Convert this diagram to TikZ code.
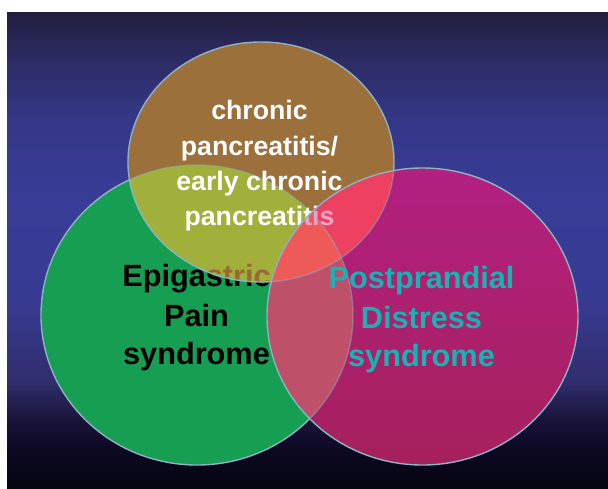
\documentclass[tikz,border=0pt]{standalone}
\usepackage{fontspec}
\setmainfont{Liberation Sans}
\definecolor{bgA}{RGB}{34,30,62}
\definecolor{bgB}{RGB}{44,44,100}
\definecolor{bgC}{RGB}{52,55,135}
\definecolor{bgD}{RGB}{56,60,150}
\definecolor{bgE}{RGB}{55,58,145}
\definecolor{bgF}{RGB}{48,46,110}
\definecolor{bgG}{RGB}{25,18,55}
\definecolor{bgH}{RGB}{12,8,35}
\definecolor{bgI}{RGB}{4,5,14}
\definecolor{greenF}{RGB}{22,158,82}
\definecolor{brownF}{RGB}{155,112,58}
\definecolor{oliveF}{RGB}{160,176,58}
\definecolor{magT}{RGB}{178,32,128}
\definecolor{magB}{RGB}{166,32,92}
\definecolor{gmF}{RGB}{190,80,105}
\definecolor{bmF}{RGB}{238,64,96}
\definecolor{gbmF}{RGB}{238,90,88}
\definecolor{stricC}{RGB}{150,105,55}
\definecolor{tisC}{RGB}{242,162,200}
\definecolor{darkM}{RGB}{90,20,50}
\definecolor{cyanT}{RGB}{25,178,180}
\definecolor{edgeC}{RGB}{140,178,196}
\pgfdeclareverticalshading{bgshade}{100bp}{color(0bp)=(bgI); color(25bp)=(bgI); color(29bp)=(bgH); color(32bp)=(bgG); color(36.3bp)=(bgF); color(44.7bp)=(bgE); color(55.2bp)=(bgD); color(63.7bp)=(bgC); color(70bp)=(bgB); color(75bp)=(bgA); color(100bp)=(bgA)}
\tikzset{
  ring/.style={draw=edgeC, line width=1.4pt},
  faintring/.style={draw=edgeC, line width=1.4pt, draw opacity=0.45},
  btxt/.style={font=\bfseries\fontsize{26.7}{32}\selectfont, anchor=base, inner sep=0pt},
  gtxt/.style={font=\bfseries\fontsize{30.7}{36}\selectfont, anchor=base, inner sep=0pt},
}
\def\Gpath{(197,315) ellipse [x radius=156, y radius=150]}
\def\Bpath{(261,162) ellipse [x radius=133, y radius=120]}
\def\Mpath{(422.5,316.5) ellipse [x radius=155.5, y radius=148.5]}
\newcommand\Gtext[2]{%
  \node[gtxt,text=#1] (#2a) at (196.5,286.5) {Epigastric};
  \node[gtxt,text=#1] (#2b) at (196.5,326.5) {Pain};
  \node[gtxt,text=#1] (#2c) at (196.5,364) {syndrome};}
\newcommand\Btext[2]{%
  \node[btxt,text=#1] (#2a) at (259.5,119.5) {chronic};
  \node[btxt,text=#1] (#2b) at (259.5,155) {pancreatitis/};
  \node[btxt,text=#1] (#2c) at (259.5,190) {early chronic};
  \node[btxt,text=#1] (#2d) at (259.5,225) {pancreatitis};}
\newcommand\Mtext[2]{%
  \node[gtxt,text=#1] (#2a) at (421.5,288) {Postprandial};
  \node[gtxt,text=#1] (#2b) at (421.5,328) {Distress};
  \node[gtxt,text=#1] (#2c) at (421.5,366) {syndrome};}
\begin{document}
\begin{tikzpicture}[x=1pt,y=-1pt]
\useasboundingbox (0,0) rectangle (608,488);
\fill[white] (0,0) rectangle (608,488);
\fill[shading=bgshade] (7,12) rectangle (608,488);
% green circle
\fill[greenF] \Gpath;
\path[ring] \Gpath;
\Gtext{black}{g}
% brown circle
\fill[brownF] \Bpath;
\begin{scope}
  \clip \Bpath;
  \fill[oliveF] \Gpath;
  \Gtext{stricC}{gs}
  \path[faintring] \Gpath;
\end{scope}
\path[ring] \Bpath;
\Btext{white}{b}
% magenta circle
\fill[top color=magT, bottom color=magB] \Mpath;
\begin{scope}
  \clip \Mpath;
  \fill[gmF] \Gpath;
  \fill[bmF] \Bpath;
  \begin{scope}
    \clip \Gpath;
    \fill[gbmF] \Bpath;
  \end{scope}
  \Btext{tisC}{bm}
  \Gtext{darkM}{gm}
  \path[faintring] \Gpath;
  \path[faintring] \Bpath;
\end{scope}
\path[ring] \Mpath;
\Mtext{cyanT}{m}
\end{tikzpicture}
\end{document}
